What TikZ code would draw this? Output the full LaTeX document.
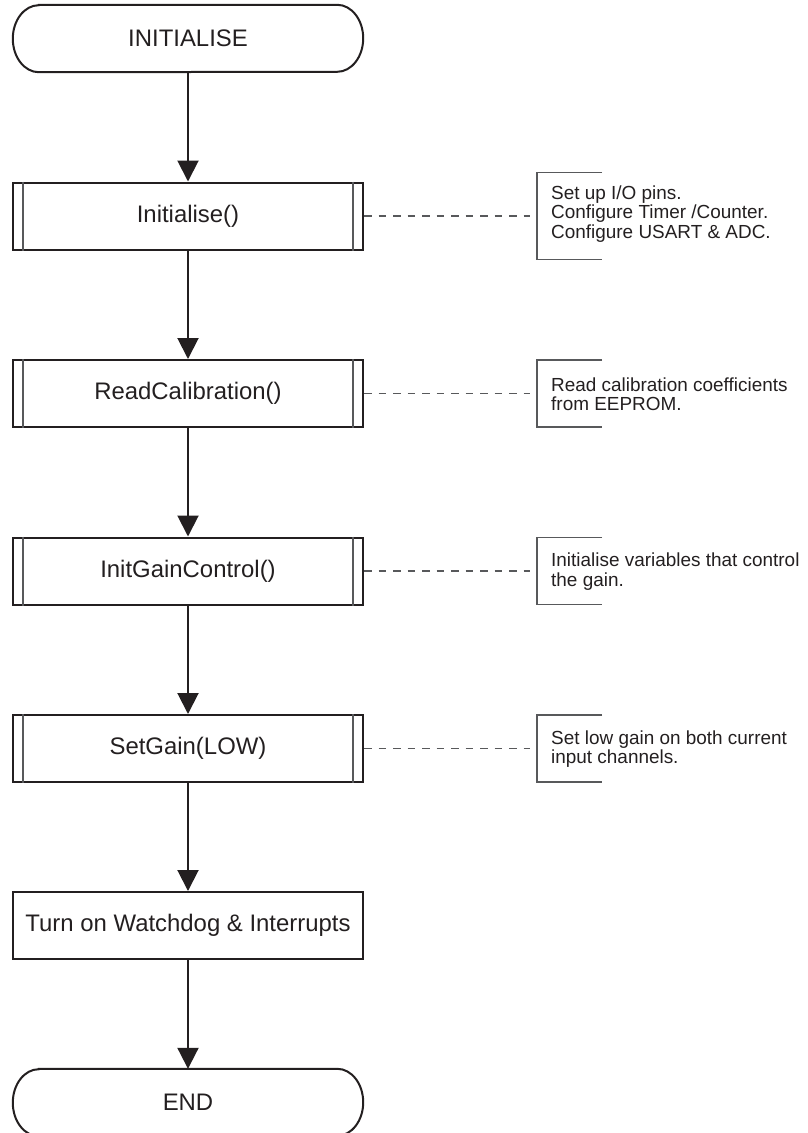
\documentclass[tikz,border=0pt]{standalone}
\usepackage{fontspec}
\setmainfont{Liberation Sans}
\usetikzlibrary{arrows.meta}
\definecolor{ink}{HTML}{231F20}
\definecolor{grayline}{HTML}{58595B}
\tikzset{
  x=1bp, y=1bp,
  mainfont/.style={font=\fontsize{24}{24}\selectfont, text=ink},
  notefont/.style={font=\fontsize{19}{19.5}\selectfont, text=ink},
  termbox/.style={mainfont, minimum width=350bp, minimum height=67bp, inner sep=0pt},
  procbox/.style={mainfont, draw=ink, line width=2bp, minimum width=350bp, minimum height=67bp, inner sep=0pt},
  notetext/.style={notefont, align=left, anchor=west, inner sep=0pt},
  flow/.style={draw=ink, line width=2bp, -{Triangle[length=21bp, width=21bp]}},
  link/.style={draw=grayline, line width=1.4bp, dash pattern=on 7.5bp off 7bp},
  bracketline/.style={draw=grayline, line width=1.3bp},
  innerline/.style={draw=grayline, line width=1.4bp},
}
\newcommand{\termoutline}[1]{%
  \draw[ink, line width=2bp] ([xshift=26bp]#1.north west) -- ([xshift=-26bp]#1.north east)
    arc[start angle=90, end angle=-90, x radius=26bp, y radius=33.5bp]
    -- ([xshift=26bp]#1.south west)
    arc[start angle=270, end angle=90, x radius=26bp, y radius=33.5bp] -- cycle;}
\newcommand{\subroutinelines}[1]{%
  \draw[innerline] ([xshift=11bp]#1.north west) -- ([xshift=11bp]#1.south west);
  \draw[innerline] ([xshift=-11bp]#1.north east) -- ([xshift=-11bp]#1.south east);}
\newcommand{\notebracket}[2]{% coordinate, half height
  \draw[bracketline] ([shift={(65bp,#2)}]#1) -- ([yshift=#2]#1) -- ([yshift=-#2]#1) -- ([shift={(65bp,-#2)}]#1);}
\begin{document}
\begin{tikzpicture}
\useasboundingbox (0,0) rectangle (808,-1133);

% main column
\node[termbox] (init) at (188,-38.5) {INITIALISE};
\termoutline{init}
\node[procbox] (b1) at (188,-216) {Initialise()};
\subroutinelines{b1}
\node[procbox] (b2) at (188,-393.5) {ReadCalibration()};
\subroutinelines{b2}
\node[procbox] (b3) at (188,-571) {InitGainControl()};
\subroutinelines{b3}
\node[procbox] (b4) at (188,-748.5) {SetGain(LOW)};
\subroutinelines{b4}
\node[procbox] (b5) at (188,-925.5) {Turn on Watchdog \& Interrupts};
\node[termbox] (fin) at (188,-1102.5) {END};
\termoutline{fin}

\draw[flow] (init) -- (b1);
\draw[flow] (b1) -- (b2);
\draw[flow] (b2) -- (b3);
\draw[flow] (b3) -- (b4);
\draw[flow] (b4) -- (b5);
\draw[flow] (b5) -- (fin);

% annotations
\coordinate (k1) at (537,-216);
\coordinate (k2) at (537,-393.5);
\coordinate (k3) at (537,-571);
\coordinate (k4) at (537,-748.5);

\draw[link] (b1.east) -- ([xshift=-7bp]k1);
\draw[link] (b2.east) -- ([xshift=-7bp]k2);
\draw[link] (b3.east) -- ([xshift=-7bp]k3);
\draw[link] (b4.east) -- ([xshift=-7bp]k4);

\notebracket{k1}{43.5bp}
\notebracket{k2}{33.5bp}
\notebracket{k3}{33.5bp}
\notebracket{k4}{33.5bp}

\node[notetext] (n1) at (551,-214) {Set up I/O pins.\\Configure Timer /Counter.\\Configure USART \& ADC.};
\node[notetext] (n2) at (551,-394) {Read calibration coefficients\\from EEPROM.};
\node[notetext] (n3) at (551,-571.5) {Initialise variables that control\\the gain.};
\node[notetext] (n4) at (551,-749) {Set low gain on both current\\input channels.};
\end{tikzpicture}
\end{document}
